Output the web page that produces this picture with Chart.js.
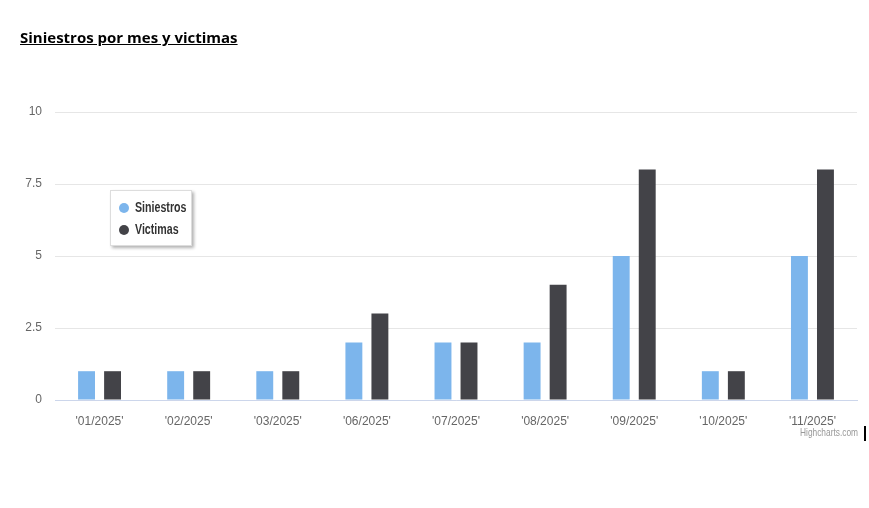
<!DOCTYPE html>
<html>
<head>
<meta charset="utf-8">
<script src="https://cdn.jsdelivr.net/npm/chart.js@4"></script>
<style>
  body { margin: 0; background: #fff; }
  #wrap { position: relative; width: 869px; height: 508px; overflow: hidden; }
  #title {
    position: absolute; left: 20px; top: 27px;
    font-family: "Open Sans", "Liberation Sans", sans-serif;
    font-weight: bold; font-size: 15px; color: #000;
    text-decoration: underline;
  }
  #chart { position: absolute; left: 0; top: 0; }
  #legend {
    position: absolute; left: 110px; top: 190px; width: 80px; height: 54px;
    background: #fff; border: 1px solid #ddd;
    box-shadow: 2px 2px 3px rgba(0,0,0,0.3);
    font-family: "Liberation Sans", sans-serif;
    font-size: 14px; font-weight: bold; color: #333;
  }
  .item { position: absolute; left: 8px; height: 16px; line-height: 16px; white-space: nowrap; }
  .dot { display: inline-block; width: 10px; height: 10px; border-radius: 50%; margin-right: 6px; vertical-align: -1px; }
  .txt { display: inline-block; transform: scaleX(0.76); transform-origin: left center; }
  #credit {
    position: absolute; left: 800px; top: 426px;
    font-family: "Liberation Sans", sans-serif;
    font-size: 11px; color: #999;
    transform: scaleX(0.76); transform-origin: left center;
  }
  #mark { position: absolute; left: 864px; top: 426px; width: 2px; height: 15px; background: #000; }
</style>
</head>
<body>
<div id="wrap">
  <canvas id="chart" width="869" height="508"></canvas>
  <div id="title">Siniestros por mes y victimas</div>
  <div id="legend"></div>
  <div id="credit">Highcharts.com</div>
  <div id="mark"></div>
</div>
<script>
const categories = ["'01/2025'", "'02/2025'", "'03/2025'", "'06/2025'", "'07/2025'", "'08/2025'", "'09/2025'", "'10/2025'", "'11/2025'"];
const siniestros = [1, 1, 1, 2, 2, 2, 5, 1, 5];
const victimas = [1, 1, 1, 3, 2, 4, 8, 1, 8];
const seriesNames = ['Siniestros', 'Victimas'];
const seriesColors = ['#7cb5ec', '#434348'];
const yTicks = [0, 2.5, 5, 7.5, 10];

const ctx = document.getElementById('chart').getContext('2d');
const chart = new Chart(ctx, {
    type: 'bar',
    data: {
        labels: categories,
        datasets: [
            { label: seriesNames[0], data: siniestros, backgroundColor: seriesColors[0] },
            { label: seriesNames[1], data: victimas, backgroundColor: seriesColors[1] }
        ]
    },
    options: {
        responsive: false,
        animation: false,
        layout: { padding: { left: 0, right: 12, top: 112, bottom: 78 } },
        datasets: { bar: { categoryPercentage: 0.584, barPercentage: 0.65 } },
        scales: {
            x: {
                grid: { display: false },
                border: { color: '#ccd6eb' },
                ticks: { color: '#666', font: { family: 'Liberation Sans', size: 12 }, padding: 6, maxRotation: 0 },
                afterFit: s => { s.height = 30; }
            },
            y: {
                min: 0,
                max: 10,
                afterBuildTicks: s => { s.ticks = yTicks.map(v => ({ value: v })); },
                grid: { color: '#e6e6e6', drawTicks: false },
                border: { display: false },
                ticks: { color: '#666', font: { family: 'Liberation Sans', size: 12 }, padding: 13 },
                afterFit: s => { s.width = 55; }
            }
        },
        plugins: {
            legend: { display: false },
            tooltip: { enabled: false }
        }
    }
});

// legend drawn as html box inside the plot
const legend = document.getElementById('legend');
chart.data.datasets.forEach((ds, i) => {
    const item = document.createElement('div');
    item.className = 'item';
    item.style.top = (8 + i * 22) + 'px';
    item.innerHTML = '<span class="dot" style="background:' + ds.backgroundColor + '"></span><span class="txt">' + ds.label + '</span>';
    legend.appendChild(item);
});
</script>
</body>
</html>
